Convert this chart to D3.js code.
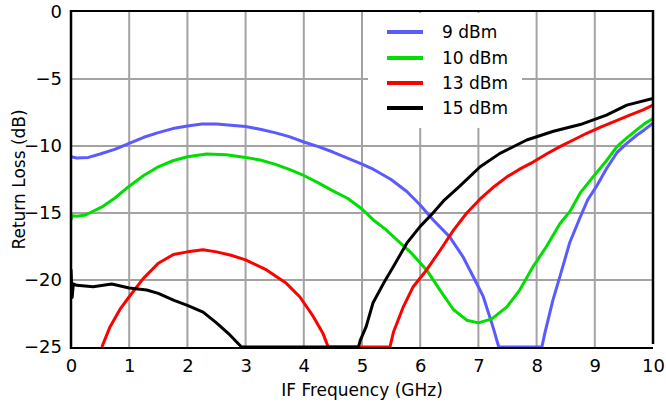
<!DOCTYPE html>
<html><head><meta charset="utf-8">
<script src="https://cdn.jsdelivr.net/npm/d3@7"></script>
<style>body{margin:0;background:#fff;} svg{display:block;}</style>
</head><body>
<script>
const seriesNames = ["9 dBm", "10 dBm", "13 dBm", "15 dBm"];
const seriesColors = ["#5a5aff", "#00dd00", "#ff0000", "#000000"];
const xTicks = [0,1,2,3,4,5,6,7,8,9,10];
const yTicks = [0,-5,-10,-15,-20,-25];

const blue = [[0,-10.8],[0.1,-10.9],[0.3,-10.85],[0.5,-10.6],[0.75,-10.25],[1,-9.8],[1.25,-9.35],[1.5,-9.0],[1.75,-8.7],[2,-8.5],[2.25,-8.35],[2.5,-8.35],[2.75,-8.45],[3,-8.55],[3.25,-8.75],[3.5,-9.0],[3.75,-9.3],[4,-9.7],[4.25,-10.05],[4.5,-10.45],[4.75,-10.9],[5,-11.35],[5.2,-11.75],[5.5,-12.5],[5.77,-13.4],[6,-14.4],[6.22,-15.5],[6.51,-16.8],[6.74,-18.3],[6.94,-20.0],[7.08,-21.2],[7.25,-23.5],[7.35,-25],[8.09,-25],[8.14,-24.0],[8.28,-21.5],[8.40,-19.75],[8.57,-17.2],[8.75,-15.3],[8.88,-14.0],[9.03,-13.0],[9.2,-11.7],[9.38,-10.5],[9.55,-9.8],[9.72,-9.2],[9.85,-8.8],[10,-8.3]];
const green = [[0,-15.5],[0.03,-15.2],[0.1,-15.25],[0.25,-15.15],[0.55,-14.5],[0.75,-13.9],[1,-13.0],[1.25,-12.2],[1.5,-11.55],[1.75,-11.1],[2,-10.8],[2.33,-10.6],[2.67,-10.65],[3,-10.85],[3.25,-11.05],[3.5,-11.35],[3.75,-11.75],[4,-12.2],[4.25,-12.75],[4.5,-13.35],[4.75,-13.9],[5.0,-14.7],[5.19,-15.5],[5.4,-16.2],[5.6,-17.0],[5.85,-18.0],[6.11,-19.25],[6.34,-20.75],[6.57,-22.2],[6.80,-23.0],[7.0,-23.2],[7.23,-22.9],[7.49,-22.0],[7.71,-20.75],[7.94,-19.0],[8.17,-17.5],[8.40,-15.8],[8.57,-14.9],[8.75,-13.5],[8.97,-12.3],[9.2,-11.1],[9.38,-10.05],[9.55,-9.4],[9.72,-8.8],[9.85,-8.35],[10,-7.95]];
const red = [[0.53,-25],[0.67,-23.5],[0.84,-22.2],[1.0,-21.25],[1.24,-19.9],[1.5,-18.75],[1.76,-18.1],[2.0,-17.9],[2.27,-17.75],[2.5,-17.9],[2.75,-18.15],[3.0,-18.5],[3.36,-19.25],[3.7,-20.25],[3.93,-21.25],[4.16,-22.7],[4.33,-24.0],[4.42,-25],[5.48,-25],[5.54,-23.9],[5.71,-22.0],[5.88,-20.5],[6.11,-19.25],[6.34,-17.8],[6.57,-16.3],[6.8,-15.0],[7.03,-13.95],[7.25,-13.1],[7.49,-12.3],[7.7,-11.75],[7.94,-11.2],[8.17,-10.6],[8.4,-10.05],[8.63,-9.55],[8.86,-9.05],[9.1,-8.6],[9.32,-8.2],[9.6,-7.7],[9.83,-7.3],[10,-6.95]];
const black = [[0,-19.2],[0.02,-21.3],[0.04,-20.3],[0.1,-20.4],[0.38,-20.5],[0.7,-20.3],[1.0,-20.6],[1.3,-20.75],[1.5,-21.0],[1.76,-21.5],[2.0,-21.9],[2.27,-22.4],[2.5,-23.2],[2.73,-24.1],[2.93,-25],[4.94,-25],[4.97,-24.5],[5.07,-23.5],[5.19,-21.7],[5.37,-20.25],[5.54,-19.0],[5.77,-17.25],[6.0,-16.0],[6.22,-15.0],[6.4,-14.1],[6.68,-13.0],[7.03,-11.55],[7.37,-10.55],[7.83,-9.55],[8.29,-8.9],[8.75,-8.4],[9.2,-7.7],[9.55,-6.95],[10,-6.45]];
const seriesData = [blue, green, red, black];

const W = 666, H = 407;
const m = {left:71, right:13, top:12, bottom:60};
const svg = d3.select("body").append("svg").attr("width", W).attr("height", H);
const x = d3.scaleLinear().domain([0,10]).range([m.left, W - m.right]);
const y = d3.scaleLinear().domain([-25,0]).range([H - m.bottom, m.top]);
const font = "DejaVu Sans, Verdana, sans-serif";

// grid
const g = svg.append("g");
g.selectAll("line.vx").data(xTicks.slice(1,-1)).enter().append("line")
  .attr("x1", d=>x(d)).attr("x2", d=>x(d)).attr("y1", y(0)).attr("y2", y(-25))
  .attr("stroke", "#a3a3a3").attr("stroke-width", 2);
g.selectAll("line.hy").data(yTicks.slice(1,-1)).enter().append("line")
  .attr("x1", x(0)).attr("x2", x(10)).attr("y1", d=>y(d)).attr("y2", d=>y(d))
  .attr("stroke", "#a3a3a3").attr("stroke-width", 2);

// legend background
const lg = svg.append("g");
lg.append("rect").attr("x", 368).attr("y", y(0)+1).attr("width", 154).attr("height", 115).attr("fill", "#fff");

// frame (bottom drawn first so curves sit on it)
svg.append("line").attr("x1", x(0)).attr("x2", x(10)).attr("y1", y(-25)+1).attr("y2", y(-25)+1).attr("stroke","#000").attr("stroke-width",2);

// clip
svg.append("clipPath").attr("id","clip").append("rect")
  .attr("x", x(0)).attr("y", y(0)-2).attr("width", x(10)-x(0)).attr("height", y(-25)-y(0)+2);

const line = d3.line().x(d=>x(d[0])).y(d=>y(d[1])).curve(d3.curveLinear);
const lines = svg.append("g").attr("clip-path","url(#clip)");
seriesData.forEach((s,i)=>{
  lines.append("path").datum(s).attr("d", line).attr("fill","none")
    .attr("stroke", seriesColors[i]).attr("stroke-width", 3).attr("stroke-linejoin","round");
});

svg.append("line").attr("x1", x(0)).attr("x2", x(10)).attr("y1", y(0)-1).attr("y2", y(0)-1).attr("stroke","#000").attr("stroke-width",2);
svg.append("line").attr("x1", x(0)).attr("x2", x(0)).attr("y1", y(0)-2).attr("y2", y(-25)+2).attr("stroke","#000").attr("stroke-width",2.5);
svg.append("line").attr("x1", x(10)).attr("x2", x(10)).attr("y1", y(0)-2).attr("y2", y(-25)-3).attr("stroke","#000").attr("stroke-width",2.5);

// axes text using d3 axes
const xAxis = d3.axisBottom(x).tickValues(xTicks).tickSize(0).tickPadding(12).tickFormat(d3.format("d"));
const xa = svg.append("g").attr("transform", `translate(0,${y(-25)})`).call(xAxis);
xa.select(".domain").remove();
xa.selectAll("text").attr("font-family", font).attr("font-size", 18).attr("fill","#000");
const yAxis = d3.axisLeft(y).tickValues(yTicks).tickSize(0).tickPadding(9).tickFormat(d3.format("d"));
const ya = svg.append("g").attr("transform", `translate(${x(0)},0)`).call(yAxis);
ya.select(".domain").remove();
ya.selectAll("text").attr("font-family", font).attr("font-size", 18).attr("fill","#000");

svg.append("text").attr("x", (x(0)+x(10))/2).attr("y", 396).attr("text-anchor","middle")
  .attr("font-family", font).attr("font-size", 17).text("IF Frequency (GHz)");
svg.append("text").attr("transform", `translate(25,${(y(0)+y(-25))/2}) rotate(-90)`).attr("text-anchor","middle")
  .attr("font-family", font).attr("font-size", 17).text("Return Loss (dB)");

// legend
const legendY = [32, 58, 83, 108];
seriesNames.forEach((n,i)=>{
  lg.append("line").attr("x1", 387).attr("x2", 423).attr("y1", legendY[i]).attr("y2", legendY[i])
    .attr("stroke", seriesColors[i]).attr("stroke-width", 4);
  lg.append("text").attr("x", 442).attr("y", legendY[i]).attr("dy","0.36em")
    .attr("font-family", font).attr("font-size", 17).text(n);
});
</script>
</body></html>
